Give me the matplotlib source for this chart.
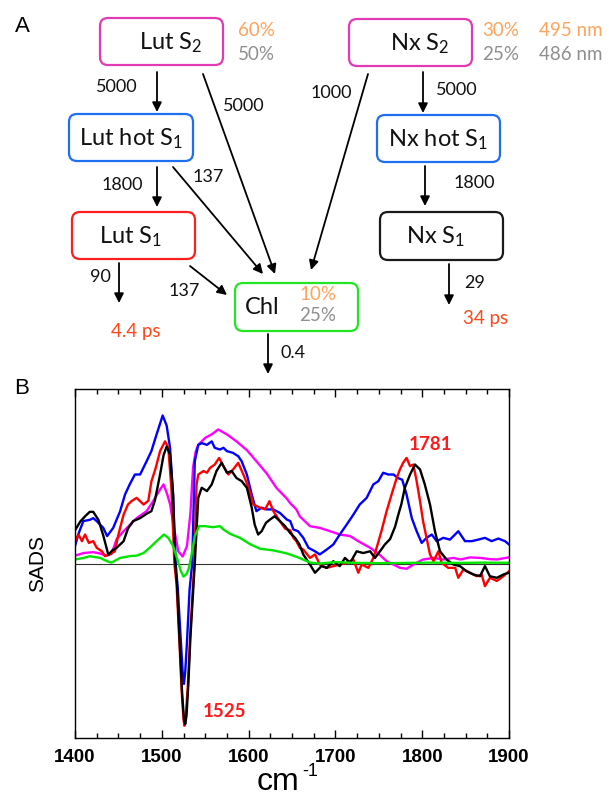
import numpy as np
import matplotlib
matplotlib.use("Agg")
import matplotlib.pyplot as plt
from matplotlib.patches import FancyBboxPatch

plt.rcParams['font.family'] = ['Lato', 'DejaVu Sans']
plt.rcParams['mathtext.fontset'] = 'custom'
plt.rcParams['mathtext.rm'] = 'Lato'
plt.rcParams['mathtext.it'] = 'Lato:italic'
plt.rcParams['mathtext.bf'] = 'Lato:bold'

# ---------------- DATA ----------------
# Panel A: kinetic scheme (rates in ns^-1) and amplitudes
states = ['Lut S$_2$', 'Lut hot S$_1$', 'Lut S$_1$', 'Nx S$_2$', 'Nx hot S$_1$', 'Nx S$_1$', 'Chl']
rate_labels = ['5000', '5000', '1800', '137', '1000', '5000', '1800', '90', '137', '0.4', '29']
lut_amp = ['60%', '50%']
nx_amp = ['30%', '25%']
chl_amp = ['10%', '25%']
exc_wl = ['495 nm', '486 nm']
lifetimes = ['4.4 ps', '34 ps']

# Panel B: SADS spectra
xticks_vals = [1400, 1500, 1600, 1700, 1800, 1900]
peak_labels = ['1525', '1781']
peak_pos = [1571.7, 1810]
peak_val = [-0.85, 0.68]

blue_x = [1400, 1404, 1409.6, 1417, 1421, 1425, 1432.6, 1437, 1444, 1452, 1457.6, 1463, 1469, 1475, 1482.5, 1488,
          1494, 1501, 1505.6, 1509.5, 1513, 1516, 1518.5, 1522, 1524, 1525.5, 1527, 1529, 1532, 1535, 1538, 1542,
          1546, 1552, 1557.5, 1561, 1567, 1571, 1575, 1582, 1588, 1592, 1598, 1603.6, 1609, 1615, 1621, 1628.5,
          1636, 1644, 1648, 1651.6, 1657, 1663, 1669, 1676.5, 1682, 1690, 1697.6, 1705, 1713, 1720.7, 1728, 1736,
          1743.7, 1749.5, 1755, 1761, 1767, 1772, 1777, 1782, 1788, 1793.6, 1799.4, 1805, 1811, 1816.7, 1824.3,
          1832, 1841.6, 1849.3, 1857, 1864.7, 1872.3, 1880, 1887.7, 1895.4, 1900]
blue_y = [0.10, 0.17, 0.243, 0.25, 0.26, 0.243, 0.204, 0.157, 0.204, 0.30, 0.395, 0.453, 0.51, 0.51, 0.586, 0.644,
          0.74, 0.848, 0.79, 0.663, 0.395, 0.0, -0.15, -0.45, -0.62, -0.69, -0.62, -0.45, -0.15, 0.0, 0.586, 0.68,
          0.69, 0.68, 0.70, 0.663, 0.653, 0.663, 0.644, 0.634, 0.615, 0.586, 0.51, 0.395, 0.30, 0.32, 0.31, 0.31,
          0.29, 0.252, 0.243, 0.195, 0.185, 0.147, 0.09, 0.07, 0.052, 0.08, 0.109, 0.166, 0.223, 0.28, 0.338, 0.376,
          0.453, 0.472, 0.52, 0.51, 0.51, 0.49, 0.48, 0.395, 0.26, 0.185, 0.118, 0.147, 0.166, 0.128, 0.147,
          0.137, 0.185, 0.128, 0.128, 0.137, 0.147, 0.128, 0.143, 0.128, 0.109]

red_x = [1400, 1404, 1408, 1411.5, 1416, 1421, 1425, 1431, 1434.6, 1440, 1446, 1450, 1456, 1461, 1465, 1471, 1475,
         1479, 1484.5, 1488, 1493, 1498, 1503.7, 1507.5, 1511, 1514.5, 1517, 1520, 1523, 1525, 1526, 1527.5, 1530,
         1533, 1537.5, 1540, 1542, 1548, 1552, 1555.6, 1561, 1566, 1571, 1576.7, 1582, 1588, 1594, 1600, 1605.5,
         1609, 1613, 1619, 1624, 1628.5, 1636, 1642, 1648, 1651.6, 1655, 1659, 1663, 1670.7, 1676.5, 1682, 1690,
         1697.6, 1705, 1713, 1720.7, 1726.4, 1730.3, 1738, 1743.7, 1747.5, 1753, 1759, 1765, 1770.6, 1774.4, 1778,
         1782, 1786, 1789.8, 1793.6, 1797.5, 1801, 1805, 1809, 1813, 1818.6, 1822.4, 1830, 1838, 1841.6, 1847.4,
         1855, 1862.7, 1868.5, 1872.3, 1878, 1886, 1893.5, 1900]
red_y = [0.128, 0.166, 0.128, 0.166, 0.118, 0.128, 0.09, 0.07, 0.042, 0.052, 0.07, 0.166, 0.28, 0.338, 0.357, 0.376,
         0.357, 0.338, 0.36, 0.47, 0.548, 0.644, 0.70, 0.663, 0.434, 0.0, -0.12, -0.42, -0.74, -0.89, -0.93, -0.88,
         -0.70, -0.38, 0.0, 0.45, 0.51, 0.53, 0.52, 0.548, 0.567, 0.605, 0.558, 0.51, 0.538, 0.577, 0.51, 0.434,
         0.338, 0.33, 0.32, 0.31, 0.357, 0.30, 0.243, 0.20, 0.19, 0.147, 0.128, 0.09, 0.08, 0.032, 0.052, -0.006,
         -0.025, -0.015, -0.006, 0.004, 0.023, -0.053, -0.006, -0.025, 0.032, 0.09, 0.185, 0.30, 0.40, 0.49, 0.54,
         0.577, 0.605, 0.558, 0.567, 0.472, 0.357, 0.243, 0.147, 0.052, 0.013, 0.07, 0.004, -0.025, -0.025, -0.082,
         -0.034, -0.053, -0.073, -0.063, -0.13, -0.082, -0.10, -0.073, -0.044]

black_x = [1400, 1406, 1411.5, 1417, 1421, 1427, 1432.6, 1438.4, 1443, 1448, 1456, 1461, 1467, 1475, 1482.5, 1488,
           1492, 1498, 1502, 1505.6, 1509.5, 1513, 1515.5, 1517.5, 1520.5, 1523.5, 1525.5, 1527, 1528.5, 1530.5,
           1533, 1538, 1542, 1546, 1552, 1557.5, 1563, 1569, 1575, 1580.5, 1586, 1592, 1598, 1603.6, 1607, 1611,
           1615, 1620, 1624.7, 1630, 1636, 1642, 1647.7, 1653.5, 1658.5, 1663, 1670.7, 1676.5, 1684, 1690, 1697.6,
           1705, 1711, 1717, 1724.5, 1732, 1740, 1745.6, 1751.4, 1757, 1763, 1768.7, 1772.5, 1776, 1780, 1786,
           1791.7, 1797.5, 1803, 1809, 1814.7, 1820.5, 1828, 1836, 1843.5, 1851, 1859, 1866.6, 1872.3, 1878, 1886,
           1893.5, 1900]
black_y = [0.19, 0.24, 0.27, 0.296, 0.296, 0.25, 0.16, 0.05, 0.075, 0.09, 0.128, 0.20, 0.243, 0.26, 0.285, 0.30,
           0.36, 0.51, 0.62, 0.67, 0.625, 0.395, 0.0, -0.12, -0.44, -0.75, -0.89, -0.92, -0.87, -0.70,
           -0.42, 0.0, 0.376, 0.434, 0.415, 0.453, 0.53, 0.577, 0.52, 0.53, 0.49, 0.472, 0.434, 0.32, 0.223, 0.166,
           0.185, 0.233, 0.252, 0.271, 0.243, 0.214, 0.176, 0.147, 0.11, 0.052, -0.006, -0.053, -0.015, -0.025, 0.013,
           -0.015, 0.032, 0.004, 0.07, 0.06, 0.07, 0.032, 0.07, 0.109, 0.14, 0.21, 0.28, 0.34, 0.434, 0.51,
           0.567, 0.539, 0.453, 0.338, 0.185, 0.07, 0.023, -0.006, -0.015, -0.044, -0.063, -0.073, -0.015, -0.073, -0.082,
           -0.063, -0.053]

magenta_x = [1400, 1410, 1421, 1429, 1436, 1442, 1448, 1456, 1463, 1471, 1482.5, 1490, 1498, 1502, 1506, 1509.5,
             1514, 1519, 1524, 1529, 1533, 1536, 1539, 1542, 1550, 1557.5, 1565, 1575, 1586, 1598, 1609, 1621, 1632,
             1644, 1648, 1655, 1659, 1670.7, 1682, 1694, 1705, 1717, 1728, 1740, 1751, 1759, 1767, 1774.5, 1782,
             1790, 1801, 1813, 1824, 1836, 1844, 1855, 1867, 1878, 1886, 1894, 1900]
magenta_y = [0.045, 0.06, 0.065, 0.057, 0.045, 0.055, 0.14, 0.185, 0.22, 0.26, 0.30, 0.357, 0.424, 0.453, 0.40, 0.34,
             0.204, 0.07, 0.04, 0.10, 0.29, 0.55, 0.64, 0.68, 0.72, 0.74, 0.768, 0.74, 0.70, 0.65, 0.586, 0.515, 0.434,
             0.372, 0.345, 0.31, 0.27, 0.214, 0.204, 0.185, 0.166, 0.157, 0.123, 0.09, 0.05, 0.013, -0.006, -0.025, -0.03,
             -0.006, 0.023, 0.032, 0.023, 0.032, 0.023, 0.035, 0.032, 0.025, 0.023, 0.03, 0.035]

green_x = [1400, 1410, 1417, 1429, 1436, 1442, 1452, 1463, 1471, 1479, 1486, 1494, 1502.5, 1507.5, 1513, 1518, 1522,
           1525, 1528.5, 1531, 1534, 1538, 1543, 1550, 1559, 1567, 1571, 1578.6, 1590, 1602, 1613, 1628.5, 1644, 1657,
           1671, 1682, 1700, 1720, 1750, 1780, 1810, 1840, 1870, 1900]
green_y = [0.023, 0.032, 0.042, 0.032, 0.015, 0.005, 0.032, 0.042, 0.045, 0.06, 0.09, 0.128, 0.166, 0.147, 0.10, 0.023,
           -0.044, -0.075, -0.06, -0.03, 0.042, 0.157, 0.214, 0.214, 0.208, 0.214, 0.195, 0.17, 0.147, 0.11, 0.085,
           0.075, 0.058, 0.035, 0.005, 0.0, 0.008, 0.004, 0.002, 0.003, 0.005, 0.003, 0.005, 0.004]

series = [
    (magenta_x, magenta_y, '#ff00ff'),
    (blue_x, blue_y, '#0000ff'),
    (red_x, red_y, '#ff0000'),
    (black_x, black_y, '#000000'),
    (green_x, green_y, '#00e600'),
]

# ---------------- FIGURE ----------------
W, H = 609, 796
fig = plt.figure(figsize=(W / 100, H / 100), dpi=100)

# ----- Panel A (pixel-coordinate layout axes) -----
topH = 380
axA = fig.add_axes([0, 1 - topH / H, 1, topH / H])
axA.set_xlim(0, W)
axA.set_ylim(topH, 0)
axA.axis('off')

C_MAG, C_BLUE, C_RED, C_GREEN, C_BLACK = '#e23ab5', '#1f6ff0', '#ff1f1f', '#22e622', '#1a1a1a'
C_ORANGE, C_GREY, C_PS = '#ffa35c', '#8f8f8f', '#ff4719'

# box layout: (x0, y0, x1, y1, text centre x, colour)
box_layout = [
    (100, 18, 223, 65, 171, C_MAG),
    (69, 114, 193, 161, 131, C_BLUE),
    (72, 212, 195, 259, 131, C_RED),
    (349, 19, 472, 66, 420, C_MAG),
    (377, 115, 500, 162, 438, C_BLUE),
    (380, 212, 503, 260, 436, C_BLACK),
    (235, 283, 358, 331, 262, C_GREEN),
]
for name, (x0, y0, x1, y1, tx, col) in zip(states, box_layout):
    axA.add_patch(FancyBboxPatch((x0, y0), x1 - x0, y1 - y0,
                                 boxstyle="round,pad=0,rounding_size=8",
                                 fc='white', ec=col, lw=1.6))
    axA.text(tx, (y0 + y1) / 2 + 1, name, fontsize=17, ha='center', va='center', color='#111111')

# arrows: (start, end)
arrow_layout = [
    ((157, 72), (157, 112)),
    ((203, 74), (275, 274)),
    ((157, 167), (157, 207)),
    ((173, 167), (263, 274)),
    ((368, 74), (311, 270)),
    ((423, 72), (423, 113)),
    ((425, 166), (425, 206)),
    ((119, 263), (119, 303)),
    ((190, 266), (227, 295)),
    ((268, 334), (268, 374)),
    ((449, 264), (449, 305)),
]
label_pos = [(117, 87), (244, 106), (122, 185), (208, 177), (331, 93), (457, 90),
             (474, 183), (100, 277), (184, 291), (293, 353), (475, 283)]
for (s, e), lab, lp in zip(arrow_layout, rate_labels, label_pos):
    axA.annotate('', xy=e, xytext=s,
                 arrowprops=dict(arrowstyle='-|>', color='black', lw=1.3,
                                 mutation_scale=14, shrinkA=0, shrinkB=0))
    axA.text(lp[0], lp[1], lab, fontsize=13, ha='center', va='center', color='#111111')

# amplitude labels
for txt, col, y in zip(lut_amp, [C_ORANGE, C_GREY], [30, 54]):
    axA.text(256, y, txt, fontsize=13.5, ha='center', va='center', color=col)
for txt, col, y in zip(nx_amp, [C_ORANGE, C_GREY], [30, 54]):
    axA.text(501, y, txt, fontsize=13.5, ha='center', va='center', color=col)
for txt, col, y in zip(exc_wl, [C_ORANGE, C_GREY], [30, 54]):
    axA.text(571, y, txt, fontsize=13.5, ha='center', va='center', color=col)
for txt, col, y in zip(chl_amp, [C_ORANGE, C_GREY], [295, 316]):
    axA.text(318, y, txt, fontsize=13.5, ha='center', va='center', color=col)
for txt, (x, y) in zip(lifetimes, [(136, 332), (486, 319)]):
    axA.text(x, y, txt, fontsize=13.5, ha='center', va='center', color=C_PS)

fig.text(22 / W, 1 - 27 / H, 'A', fontsize=16, ha='center', va='center', family='Liberation Sans')
fig.text(22 / W, 1 - 388 / H, 'B', fontsize=16, ha='center', va='center', family='Liberation Sans')

# ----- Panel B -----
ax = fig.add_axes([75 / W, 1 - 738 / H, 434 / W, 349 / H])
ax.axhline(0, color='#333333', lw=0.8, zorder=1)
for xs, ys, col in series:
    ax.plot(xs, ys, color=col, lw=1.7, zorder=2)

ax.set_xlim(1400, 1900)
ax.set_ylim(-1.0, 1.0)
ax.set_xticks(xticks_vals)
ax.set_xticks(np.arange(1400, 1901, 25), minor=True)
ax.set_yticks([])
ax.tick_params(axis='x', which='both', direction='in', top=True, bottom=True)
ax.tick_params(axis='x', which='major', length=6, width=1, pad=8)
ax.tick_params(axis='x', which='minor', length=3.5, width=1)
for lab in ax.get_xticklabels():
    lab.set_fontfamily('Liberation Sans')
    lab.set_fontweight('bold')
    lab.set_fontsize(13.5)
for sp in ax.spines.values():
    sp.set_linewidth(1.0)

for txt, xp, yp in zip(peak_labels, peak_pos, peak_val):
    ax.text(xp, yp, txt, fontsize=13.5, fontweight='bold', color='#ff1a1a', ha='center', va='center')

# x label: "cm" with superscript "-1"
fig.text(278 / W, 1 - 790 / H, 'cm', fontsize=23, ha='center', va='baseline', family='Liberation Sans')
fig.text(310 / W, 1 - 776 / H, '-1', fontsize=13, ha='center', va='baseline', family='Liberation Sans')
fig.text(38 / W, 1 - 563 / H, 'SADS', fontsize=15, rotation=90, ha='center', va='center',
         family='Liberation Sans')

fig.savefig('out.png', dpi=100)
